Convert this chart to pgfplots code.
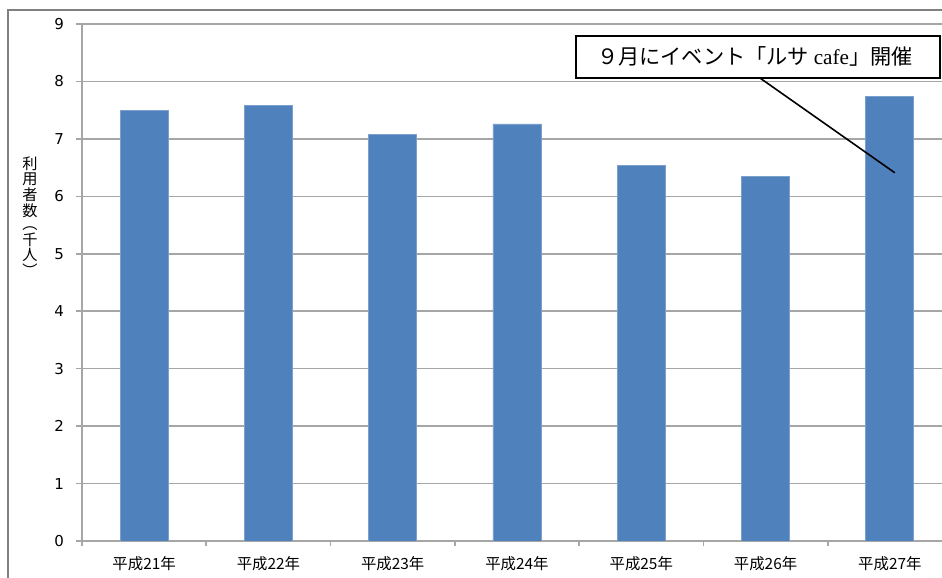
\documentclass[border=0pt]{standalone}
\usepackage{fontspec}
\usepackage{pgfplots}
\pgfplotsset{compat=1.18}
\setmainfont{DejaVu Sans}
\newfontfamily\jp{Noto Sans CJK JP}
\newfontfamily\serifl{Liberation Serif}
\definecolor{barc}{HTML}{4F81BD}
\definecolor{gridc}{HTML}{A6A6A6}
\begin{document}
\begin{tikzpicture}
\begin{axis}[
  at={(0,0)}, anchor=south west,
  scale only axis, width=435pt, height=258.5pt,
  xmin=-0.5, xmax=6.5, ymin=0, ymax=9,
  ytick={0,...,9},
  xtick={0,...,6},
  xticklabels={平成21年,平成22年,平成23年,平成24年,平成25年,平成26年,平成27年},
  minor xtick={-0.5,0.5,...,6.5},
  axis x line*=bottom, axis y line*=left,
  axis line style={gridc, line width=0.8pt},
  ymajorgrids, grid style={gridc, line width=0.8pt},
  tick align=outside,
  major tick length=3pt, minor tick length=2.5pt,
  major x tick style={draw=none},
  minor x tick style={gridc, line width=0.8pt},
  major y tick style={gridc, line width=0.8pt},
  /pgf/number format/assume math mode=true,
  yticklabel style={font=\fontsize{7.5}{9}\selectfont, xshift=-2.5pt},
  xticklabel style={font=\jp\fontsize{7.7}{9}\selectfont, yshift=-1pt},
  ybar, bar width=24pt,
]
\addplot[fill=barc, draw=barc!75!white, line width=0.4pt] coordinates {
  (0,7.49) (1,7.58) (2,7.07) (3,7.26) (4,6.53) (5,6.34) (6,7.74)};
\draw[black, line width=0.8pt] (axis cs:4.955,8.06) -- (axis cs:6.04,6.41);
\draw[black, line width=1pt, fill=white] (axis cs:3.474,8.06) rectangle (axis cs:6.40,8.79);
\node[font=\jp\fontsize{10.6}{12}\selectfont, inner sep=0pt] at (axis cs:4.914,8.43) {９月にイベント「ルサ {\serifl cafe}」開催};
\end{axis}
\node[font=\jp\fontsize{7.6}{6.4}\selectfont, align=center, inner sep=0pt] at (-26pt,162pt) {利\\用\\者\\数\\︵\\千\\人\\︶};
\draw[gray, line width=0.75pt] (-37pt,-50pt) -- (-37pt,265.5pt) -- (500pt,265.5pt);
\pgfresetboundingbox
\useasboundingbox (-41pt,-18.5pt) rectangle (430pt,270.5pt);
\end{tikzpicture}
\end{document}
